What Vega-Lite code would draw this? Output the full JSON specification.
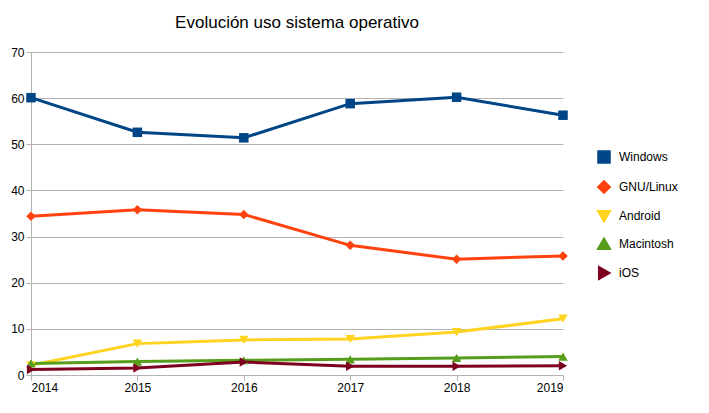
{
  "$schema": "https://vega.github.io/schema/vega-lite/v6.json",
  "width": 532,
  "height": 323,
  "padding": {"left": 10, "top": 14, "right": 5, "bottom": 5},
  "title": {"text": "Evolución uso sistema operativo", "font": "Liberation Sans", "fontSize": 17, "fontWeight": "normal", "offset": 14},
  "data": {"values": [
    {"year": 2014, "os": "Windows", "v": 60.1}, {"year": 2015, "os": "Windows", "v": 52.6}, {"year": 2016, "os": "Windows", "v": 51.4}, {"year": 2017, "os": "Windows", "v": 58.8}, {"year": 2018, "os": "Windows", "v": 60.2}, {"year": 2019, "os": "Windows", "v": 56.3},
    {"year": 2014, "os": "GNU/Linux", "v": 34.4}, {"year": 2015, "os": "GNU/Linux", "v": 35.8}, {"year": 2016, "os": "GNU/Linux", "v": 34.8}, {"year": 2017, "os": "GNU/Linux", "v": 28.1}, {"year": 2018, "os": "GNU/Linux", "v": 25.1}, {"year": 2019, "os": "GNU/Linux", "v": 25.8},
    {"year": 2014, "os": "Android", "v": 2.1}, {"year": 2015, "os": "Android", "v": 6.8}, {"year": 2016, "os": "Android", "v": 7.6}, {"year": 2017, "os": "Android", "v": 7.8}, {"year": 2018, "os": "Android", "v": 9.3}, {"year": 2019, "os": "Android", "v": 12.2},
    {"year": 2014, "os": "Macintosh", "v": 2.5}, {"year": 2015, "os": "Macintosh", "v": 2.9}, {"year": 2016, "os": "Macintosh", "v": 3.2}, {"year": 2017, "os": "Macintosh", "v": 3.4}, {"year": 2018, "os": "Macintosh", "v": 3.7}, {"year": 2019, "os": "Macintosh", "v": 4.0},
    {"year": 2014, "os": "iOS", "v": 1.2}, {"year": 2015, "os": "iOS", "v": 1.5}, {"year": 2016, "os": "iOS", "v": 2.8}, {"year": 2017, "os": "iOS", "v": 1.9}, {"year": 2018, "os": "iOS", "v": 1.9}, {"year": 2019, "os": "iOS", "v": 2.0}
  ]},
  "mark": {"type": "line", "strokeWidth": 3, "point": {"filled": true, "size": 90, "opacity": 1}},
  "encoding": {
    "x": {"field": "year", "type": "quantitative", "scale": {"domain": [2014, 2019], "nice": false, "zero": false},
      "axis": {"title": null, "format": "d", "tickCount": 6, "grid": false, "domainColor": "#b3b3b3", "tickColor": "#b3b3b3", "labelFontSize": 12, "labelColor": "#000", "labelFont": "Liberation Sans"}},
    "y": {"field": "v", "type": "quantitative", "scale": {"domain": [0, 70]},
      "axis": {"title": null, "tickCount": 7, "gridColor": "#b3b3b3", "domainColor": "#b3b3b3", "tickColor": "#b3b3b3", "labelFontSize": 12, "labelColor": "#000", "labelFont": "Liberation Sans"}},
    "color": {"field": "os", "type": "nominal", "sort": ["Windows", "GNU/Linux", "Android", "Macintosh", "iOS"],
      "scale": {"domain": ["Windows", "GNU/Linux", "Android", "Macintosh", "iOS"], "range": ["#004586", "#ff420e", "#ffd320", "#579d1c", "#7e0021"]},
      "legend": {"title": null, "orient": "none", "legendX": 566, "legendY": 98, "labelFontSize": 12, "labelFont": "Liberation Sans", "labelColor": "#000", "symbolStrokeWidth": 3, "symbolSize": 110, "rowPadding": 6, "labelOffset": 8}},
    "shape": {"field": "os", "type": "nominal",
      "scale": {"domain": ["Windows", "GNU/Linux", "Android", "Macintosh", "iOS"], "range": ["square", "diamond", "triangle-down", "triangle-up", "triangle-right"]},
      "legend": null}
  },
  "config": {"view": {"stroke": null}}
}
